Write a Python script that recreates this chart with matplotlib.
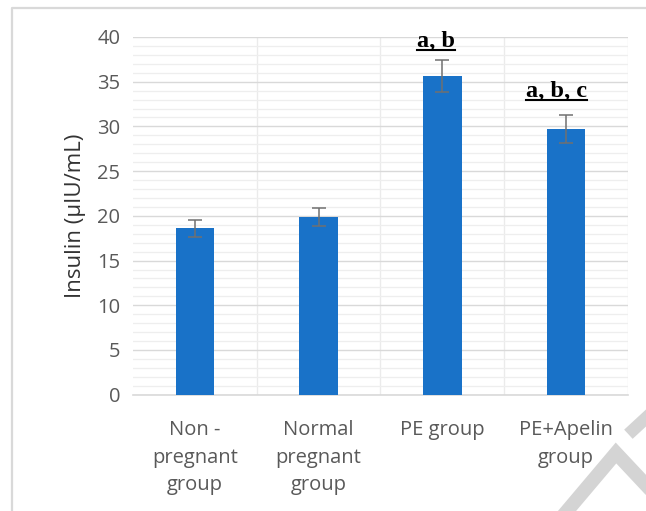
import numpy as np
import matplotlib
matplotlib.use('Agg')
import matplotlib.pyplot as plt
from matplotlib.lines import Line2D
from matplotlib.ticker import MultipleLocator

groups = ['Non -\npregnant\ngroup', 'Normal\npregnant\ngroup', 'PE group', 'PE+Apelin\ngroup']
insulin = [18.6, 19.9, 35.6, 29.7]
insulin_err = [0.95, 1.0, 1.8, 1.55]
sig_labels = ['', '', 'a, b', 'a, b, c']

W, H = 646, 511
fig = plt.figure(figsize=(W / 100, H / 100), dpi=100)
ax = fig.add_axes([133 / W, 1 - 394.7 / H, (628 - 133) / W, (394.7 - 37) / H])

x = np.arange(len(groups))
ax.bar(x, insulin, width=0.31, color='#1972c8', zorder=3)
ax.errorbar(x, insulin, yerr=insulin_err, fmt='none', ecolor='#707070',
            elinewidth=1.1, capsize=5, capthick=1.1, zorder=4)

ax.set_xlim(-0.5, len(groups) - 0.5)
ax.set_ylim(0, 40)
ax.yaxis.set_major_locator(MultipleLocator(5))
ax.yaxis.set_minor_locator(MultipleLocator(1))
ax.grid(axis='y', which='major', color='#d9d9d9', linewidth=1.0, zorder=0)
ax.grid(axis='y', which='minor', color='#eeeeee', linewidth=0.9, zorder=0)
for xb in np.arange(-0.5, len(groups), 1.0)[1:]:
    ax.axvline(xb, color='#ebebeb', linewidth=1.0, zorder=0)

for s in ['top', 'right', 'left']:
    ax.spines[s].set_visible(False)
ax.spines['bottom'].set_color('#d9d9d9')
ax.spines['bottom'].set_linewidth(1.2)

ax.set_xticks(x)
ax.set_xticklabels(groups, fontsize=14.5, color='#595959', family='Open Sans', linespacing=1.52)
ax.tick_params(axis='both', which='both', length=0)
ax.tick_params(axis='y', pad=9)
ax.tick_params(axis='x', pad=18)
for lab in ax.get_yticklabels():
    lab.set_fontsize(14.5)
    lab.set_color('#595959')
    lab.set_family('Open Sans')
ax.set_ylabel('Insulin (µIU/mL)', fontsize=16, color='#333333', family='Open Sans', labelpad=8)

# significance letters, underlined
sig_pos = {2: (-0.05, 38.9), 3: (-0.08, 33.3)}
texts = []
for i, lab in enumerate(sig_labels):
    if not lab:
        continue
    dx, yy = sig_pos[i]
    t = ax.text(x[i] + dx, yy, lab, ha='center', va='baseline', fontsize=17.5,
                fontweight='bold', family='Liberation Serif', color='black', zorder=5)
    texts.append((t, yy))

fig.canvas.draw()
r = fig.canvas.get_renderer()
for t, yy in texts:
    bb = t.get_window_extent(r)
    ybase = ax.transData.transform((0, yy))[1] - 3
    fig.add_artist(Line2D([bb.x0 / W, bb.x1 / W], [ybase / H, ybase / H],
                          transform=fig.transFigure, color='black', linewidth=1.5))

# chart frame (left / top edges visible)
fig.add_artist(Line2D([12 / W, 12 / W, 1.0], [0.0, 1 - 8 / H, 1 - 8 / H],
                      transform=fig.transFigure, color='#d9d9d9', linewidth=1.6))

# watermark fragment
wm = '#d4d4d4'
fig.add_artist(Line2D([567 / W, 616 / W, 1.0], [0.0, 1 - 453 / H, 1 - 485 / H],
                      transform=fig.transFigure, color=wm, linewidth=10,
                      solid_joinstyle='miter', zorder=-1))
fig.add_artist(Line2D([633 / W, 1.0], [1 - 430 / H, 1 - 418 / H],
                      transform=fig.transFigure, color=wm, linewidth=9, zorder=-1))

fig.savefig('out.png', dpi=100)
